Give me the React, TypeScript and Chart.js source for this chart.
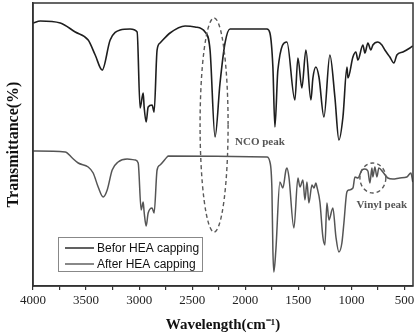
import React, { useEffect, useRef } from "react";
import { Chart, registerables } from "chart.js";

Chart.register(...registerables);

// ---- Data (wavenumber cm-1, relative transmittance) ----
const beforWave = [4000, 3931, 3743, 3602, 3480, 3414, 3348, 3273, 3179, 3085, 3019, 2991, 2962, 2953, 2934, 2915, 2878, 2859, 2831, 2803, 2709, 2567, 2473, 2379, 2332, 2285, 2238, 2191, 2144, 1796, 1768, 1740, 1721, 1693, 1608, 1533, 1504, 1467, 1429, 1382, 1363, 1335, 1306, 1259, 1203, 1156, 1118, 1080, 1042, 1033, 986, 958, 939, 892, 873, 845, 817, 798, 751, 713, 685, 638, 600, 572, 515, 449, 422];
const beforT = [263, 265, 263, 254, 246, 231, 216, 246, 256, 257, 254, 178, 193, 179, 164, 179, 181, 174, 236, 243, 253, 260, 259, 254, 236, 149, 203, 243, 257, 257, 253, 219, 159, 216, 244, 186, 228, 198, 236, 186, 208, 219, 209, 169, 231, 189, 146, 169, 219, 208, 229, 234, 226, 241, 233, 243, 236, 241, 244, 241, 236, 229, 223, 231, 234, 238, 240];

const afterWave = [4000, 3696, 3630, 3574, 3480, 3433, 3386, 3339, 3301, 3254, 3198, 3113, 3037, 3009, 2981, 2962, 2953, 2934, 2915, 2878, 2859, 2831, 2803, 2737, 2727, 1796, 1768, 1749, 1740, 1731, 1712, 1674, 1646, 1617, 1608, 1589, 1542, 1504, 1485, 1457, 1438, 1419, 1401, 1372, 1353, 1335, 1325, 1297, 1269, 1250, 1231, 1212, 1175, 1146, 1118, 1090, 1071, 1043, 1024, 986, 967, 939, 901, 873, 845, 826, 807, 798, 779, 760, 742, 704, 657, 610, 544, 478, 440, 422];
const afterT = [135, 134, 128, 123, 119, 113, 99, 89, 96, 116, 124, 127, 126, 123, 76, 84, 74, 60, 73, 78, 73, 116, 121, 129, 130, 129, 124, 96, 36, 14, 36, 104, 98, 116, 118, 109, 58, 108, 99, 106, 86, 104, 83, 101, 98, 103, 99, 84, 49, 41, 83, 66, 78, 49, 34, 43, 63, 94, 96, 98, 109, 108, 116, 117, 115, 103, 118, 109, 119, 109, 118, 114, 108, 107, 108, 109, 113, 104];

const seriesLabels = ["Befor HEA capping", "After HEA capping"];
const seriesColors = ["#1e1e1e", "#555555"];

const xMin = 420;
const xMax = 4000;
const yMin = 0;
const yMax = 283;

// annotation labels (data coordinates)
const noteTexts = ["NCO peak", "Vinyl peak"];
const noteX = [2097, 713];
const noteY = [144, 81];
const noteAlign: CanvasTextAlign[] = ["left", "center"];

// dashed ellipses (data coordinates: center and radii)
const ellCx = [2294, 798];
const ellCy = [161, 108];
const ellRx = [132, 122];
const ellRy = [107, 15];

const SERIF = '"Liberation Serif", "Times New Roman", serif';
const SANS = '"Liberation Sans", Arial, sans-serif';

const overlayPlugin = {
  id: "overlay",
  afterDatasetsDraw(chart: any) {
    const { ctx, chartArea, scales } = chart;
    const xs = scales.x;
    const ys = scales.y;
    ctx.save();

    // dashed ellipses
    ctx.strokeStyle = "#5a5a5a";
    ctx.lineWidth = 1.4;
    ctx.setLineDash([4, 3]);
    for (let i = 0; i < ellCx.length; i++) {
      const cx = xs.getPixelForValue(ellCx[i]);
      const cy = ys.getPixelForValue(ellCy[i]);
      const rx = Math.abs(xs.getPixelForValue(ellCx[i] + ellRx[i]) - cx);
      const ry = Math.abs(ys.getPixelForValue(ellCy[i] + ellRy[i]) - cy);
      ctx.beginPath();
      ctx.ellipse(cx, cy, rx, ry, 0, 0, Math.PI * 2);
      ctx.stroke();
    }
    ctx.setLineDash([]);

    // annotation texts
    ctx.fillStyle = "#555555";
    ctx.font = `bold 11px ${SERIF}`;
    ctx.textBaseline = "middle";
    for (let i = 0; i < noteTexts.length; i++) {
      ctx.textAlign = noteAlign[i];
      ctx.fillText(noteTexts[i], xs.getPixelForValue(noteX[i]), ys.getPixelForValue(noteY[i]));
    }

    // legend box
    const bx = chartArea.left + 25;
    const by = chartArea.bottom - 49;
    const bw = 144;
    const bh = 34;
    ctx.fillStyle = "#ffffff";
    ctx.fillRect(bx, by, bw, bh);
    ctx.strokeStyle = "#888888";
    ctx.lineWidth = 1;
    ctx.strokeRect(bx + 0.5, by + 0.5, bw, bh);
    ctx.font = `12px ${SANS}`;
    ctx.textAlign = "left";
    ctx.textBaseline = "middle";
    for (let i = 0; i < seriesLabels.length; i++) {
      const ly = by + 11 + i * 16;
      ctx.strokeStyle = seriesColors[i];
      ctx.lineWidth = 1.4;
      ctx.beginPath();
      ctx.moveTo(bx + 7, ly);
      ctx.lineTo(bx + 36, ly);
      ctx.stroke();
      ctx.fillStyle = "#111111";
      ctx.fillText(seriesLabels[i], bx + 39, ly + 0.5);
    }

    // frame
    ctx.strokeStyle = "#333333";
    ctx.lineWidth = 1.5;
    ctx.strokeRect(chartArea.left, chartArea.top, chartArea.right - chartArea.left, chartArea.bottom - chartArea.top);
    ctx.restore();
  },
};

export default function App() {
  const ref = useRef<HTMLCanvasElement | null>(null);

  useEffect(() => {
    if (!ref.current) return;
    const chart = new Chart(ref.current, {
      type: "line",
      data: {
        datasets: [
          {
            label: seriesLabels[0],
            data: beforWave.map((w, i) => ({ x: w, y: beforT[i] })),
            borderColor: seriesColors[0],
            borderWidth: 1.6,
            pointRadius: 0,
            cubicInterpolationMode: "monotone",
            fill: false,
          },
          {
            label: seriesLabels[1],
            data: afterWave.map((w, i) => ({ x: w, y: afterT[i] })),
            borderColor: seriesColors[1],
            borderWidth: 1.5,
            pointRadius: 0,
            cubicInterpolationMode: "monotone",
            fill: false,
          },
        ],
      },
      options: {
        responsive: false,
        animation: false,
        layout: { padding: { top: 3, right: 6, left: 0, bottom: 0 } },
        plugins: {
          legend: { display: false },
          tooltip: { enabled: false },
        },
        scales: {
          x: {
            type: "linear",
            reverse: true,
            min: xMin,
            max: xMax,
            afterFit: (s: any) => {
              s.height = 50;
            },
            border: { display: true, color: "#333333", width: 1.5 },
            grid: {
              display: true,
              drawOnChartArea: false,
              drawTicks: true,
              tickLength: 4,
              color: "#333333",
              lineWidth: 1.2,
            },
            ticks: {
              stepSize: 250,
              includeBounds: false,
              autoSkip: false,
              maxRotation: 0,
              padding: 3,
              color: "#222222",
              font: { family: SERIF, size: 13 },
              callback: (v: any) => (Number(v) % 500 === 0 ? String(v) : ""),
            },
            title: {
              display: true,
              text: "Wavelength(cm⁻¹)",
              color: "#111111",
              font: { family: SERIF, size: 15, weight: "bold" },
              padding: { top: 0, bottom: 2 },
            },
          },
          y: {
            type: "linear",
            min: yMin,
            max: yMax,
            afterFit: (s: any) => {
              s.width = 33;
            },
            border: { display: true, color: "#333333", width: 1.5 },
            grid: { display: false },
            ticks: { display: false },
            title: {
              display: true,
              text: "Transmittance(%)",
              color: "#111111",
              font: { family: SERIF, size: 16, weight: "bold" },
              padding: { top: 4, bottom: 0 },
            },
          },
        },
      },
      plugins: [overlayPlugin],
    });
    return () => chart.destroy();
  }, []);

  return (
    <div style={{ position: "fixed", left: 0, top: 0, width: 419, height: 336, background: "#fff" }}>
      <canvas ref={ref} width={419} height={336} style={{ display: "block" }} />
    </div>
  );
}
